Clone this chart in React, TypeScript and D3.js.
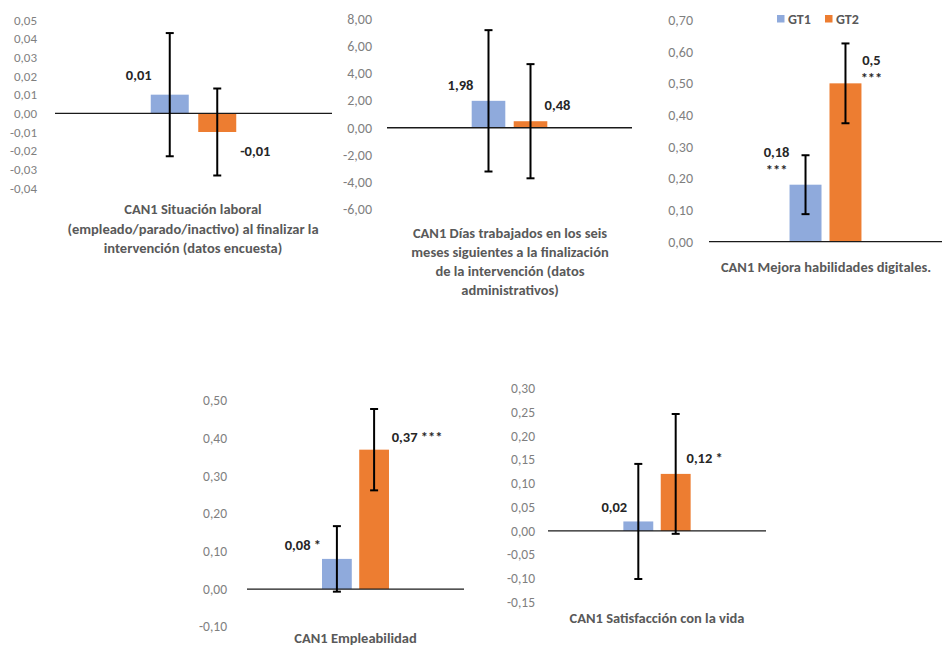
import React from "react";
import * as d3 from "d3";

// ---- data ----
const series = ["GT1", "GT2"];
const seriesColors = ["#8FAADC", "#ED7D31"];
const panelTitles = [
  ["CAN1 Situación laboral", "(empleado/parado/inactivo) al finalizar la", "intervención (datos encuesta)"],
  ["CAN1 Días trabajados en los seis", "meses siguientes a la finalización", "de la intervención (datos", "administrativos)"],
  ["CAN1 Mejora habilidades digitales."],
  ["CAN1 Empleabilidad"],
  ["CAN1 Satisfacción con la vida"],
];
const gt1Values = [0.01, 1.98, 0.18, 0.08, 0.02];
const gt2Values = [-0.01, 0.48, 0.5, 0.37, 0.12];
const gt1Errors = [0.033, 5.2, 0.093, 0.087, 0.121];
const gt2Errors = [0.0233, 4.2, 0.126, 0.108, 0.126];
const gt1Labels = [["0,01"], ["1,98"], ["0,18", "***"], ["0,08 *"], ["0,02"]];
const gt2Labels = [["-0,01"], ["0,48"], ["0,5", "***"], ["0,37 ***"], ["0,12 *"]];
const yMins = [-0.04, -6, 0, -0.1, -0.15];
const yMaxs = [0.05, 8, 0.7, 0.5, 0.3];
const tickSteps = [0.01, 2, 0.1, 0.1, 0.05];

// ---- layout ----
const layouts = [
  { x0: 55, x1: 332, yTop: 20, yBot: 188, labelRight: 37, tickFont: 13, titleX: 193, titleY: [209, 229, 248],
    lab1: [-31, 75], lab2: [38, 151] },
  { x0: 387, x1: 632, yTop: 19, yBot: 209.3, labelRight: 372, tickFont: 14, titleX: 510, titleY: [233, 252.3, 271, 290],
    lab1: [-28, 85], lab2: [27, 105] },
  { x0: 709, x1: 942, yTop: 20, yBot: 241.7, labelRight: 693, tickFont: 14, titleX: 826, titleY: [267],
    lab1: [-29, 152], lab2: [26, 60] },
  { x0: 247, x1: 464, yTop: 400.7, yBot: 626.7, labelRight: 227, tickFont: 13.5, titleX: 355.5, titleY: [638],
    lab1: [-34, 545], lab2: [43, 436.7] },
  { x0: 548, x1: 766, yTop: 388.3, yBot: 602.3, labelRight: 535, tickFont: 13.5, titleX: 657, titleY: [618.3],
    lab1: [-24, 506.7], lab2: [29, 458.3] },
];

const FONT = "Carlito, Calibri, Lato, 'Open Sans', sans-serif";
const fmt = (v: number) => d3.format(".2f")(v).replace("\u2212", "-").replace(".", ",");

function Panel({ i }: { i: number }) {
  const L = layouts[i];
  const y = d3.scaleLinear().domain([yMins[i], yMaxs[i]]).range([L.yBot, L.yTop]);
  const xCat = d3.scaleBand<string>().domain(["c"]).range([L.x0, L.x1]).paddingInner(0).paddingOuter(1.12);
  const xSer = d3.scaleBand<string>().domain(series).range([0, xCat.bandwidth()]).paddingInner(0.2).paddingOuter(0);
  const n = Math.round((yMaxs[i] - yMins[i]) / tickSteps[i]);
  const ticks = d3.range(n + 1).map((k) => yMins[i] + k * tickSteps[i]);
  const vals = [gt1Values[i], gt2Values[i]];
  const errs = [gt1Errors[i], gt2Errors[i]];
  const labs = [gt1Labels[i], gt2Labels[i]];
  const labPos = [L.lab1, L.lab2];
  const cap = 4;
  return (
    <g>
      {ticks.map((t, k) => (
        <text key={k} x={L.labelRight} y={y(t)} dy="0.35em" textAnchor="end" fontSize={L.tickFont}
          fill="#7F7F7F" fontFamily={FONT}>{fmt(Math.abs(t) < 1e-9 ? 0 : t)}</text>
      ))}
      {series.map((s, j) => {
        const bx = (xCat("c") as number) + (xSer(s) as number);
        const v = vals[j];
        return (
          <rect key={s} x={bx} width={xSer.bandwidth()} y={Math.min(y(v), y(0))}
            height={Math.abs(y(v) - y(0))} fill={seriesColors[j]} />
        );
      })}
      <line x1={L.x0} x2={L.x1} y1={y(0)} y2={y(0)} stroke="#1a1a1a" strokeWidth={1.3} />
      {series.map((s, j) => {
        const cx = (xCat("c") as number) + (xSer(s) as number) + xSer.bandwidth() / 2;
        const hi = y(vals[j] + errs[j]);
        const lo = y(vals[j] - errs[j]);
        return (
          <g key={s} stroke="#000" strokeWidth={2}>
            <line x1={cx} x2={cx} y1={hi} y2={lo} />
            <line x1={cx - cap} x2={cx + cap} y1={hi} y2={hi} />
            <line x1={cx - cap} x2={cx + cap} y1={lo} y2={lo} />
          </g>
        );
      })}
      {series.map((s, j) => {
        const cx = (xCat("c") as number) + (xSer(s) as number) + xSer.bandwidth() / 2;
        const [dx, ly] = labPos[j];
        return labs[j].map((t, k) => (
          <text key={s + k} x={cx + dx} y={ly + k * 18} dy="0.35em" textAnchor="middle"
            fontSize={14.5} fontWeight="bold" fill="#262626" fontFamily={FONT}>{t}</text>
        ));
      })}
      <text textAnchor="middle" fontSize={14.5} fontWeight="bold" fill="#595959" fontFamily={FONT}>
        {panelTitles[i].map((t, k) => (
          <tspan key={k} x={L.titleX} y={L.titleY[k]} dy="0.35em">{t}</tspan>
        ))}
      </text>
    </g>
  );
}

export default function App() {
  return (
    <svg width={952} height={647} style={{ position: "absolute", left: 0, top: 0, background: "#fff" }}>
      <rect width={952} height={647} fill="#fff" />
      {panelTitles.map((_, i) => (
        <Panel key={i} i={i} />
      ))}
      {series.map((s, j) => (
        <g key={s} transform={`translate(${777 + j * 48},0)`}>
          <rect x={0} y={15} width={7.5} height={7.5} fill={seriesColors[j]} />
          <text x={11} y={19} dy="0.35em" fontSize={14} fontWeight="bold" fill="#595959" fontFamily={FONT}>{s}</text>
        </g>
      ))}
    </svg>
  );
}
